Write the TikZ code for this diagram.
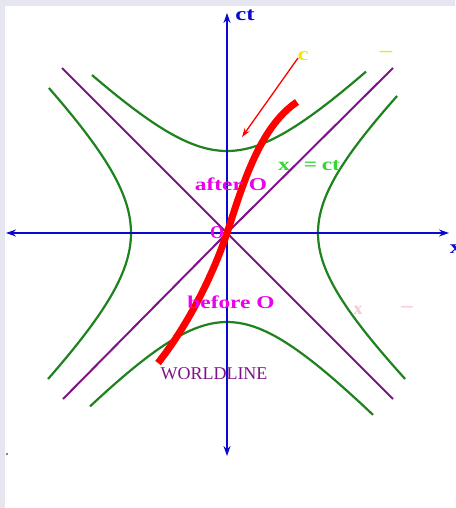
\documentclass[tikz,border=0pt]{standalone}
\usepackage{fontspec}
\setmainfont{Liberation Serif}
\usetikzlibrary{arrows.meta}
\definecolor{framebg}{RGB}{230,230,240}
\definecolor{axisblue}{RGB}{10,10,205}
\definecolor{hypgreen}{RGB}{30,130,30}
\definecolor{conepurple}{RGB}{125,20,135}
\definecolor{labmag}{RGB}{235,0,235}
\definecolor{labgreen}{RGB}{50,215,50}
\definecolor{labyellow}{RGB}{240,230,20}
\definecolor{paleredish}{RGB}{248,200,205}
\newcommand{\wide}[2]{\scalebox{#1}[1]{#2}}
\tikzset{
  axisline/.style={axisblue, line width=2.6pt, {Stealth[length=10pt,width=7pt]}-{Stealth[length=10pt,width=7pt]}},
  hyp/.style={hypgreen, line width=2.2pt},
  cone/.style={conepurple, line width=2pt},
  world/.style={red, line width=7pt},
  thinred/.style={red, line width=1.3pt, -{Stealth[length=9pt,width=6pt]}},
  maglab/.style={labmag, inner sep=0pt, font=\fontsize{18}{18}\selectfont\bfseries},
  bluelab/.style={axisblue, inner sep=0pt, font=\fontsize{19}{19}\selectfont\bfseries},
}
\begin{document}
\begin{tikzpicture}[x=1pt,y=-1pt]
\useasboundingbox (0,0) rectangle (455,508);
\fill[framebg] (0,0) rectangle (455,508);
\fill[white] (5,6) rectangle (455,508);
% coordinates
\coordinate (O) at (227,233);
\coordinate (ytop) at (227,13);
\coordinate (ybot) at (227,456);
\coordinate (xl) at (6,233);
\coordinate (xr) at (449,233);
\coordinate (c1a) at (62,68);
\coordinate (c1b) at (393,399);
\coordinate (c2a) at (393,68);
\coordinate (c2b) at (63,399);
% light cone
\draw[cone] (c1a) -- (O) -- (c1b);
\draw[cone] (c2a) -- (O) -- (c2b);
% hyperbolas
\draw[hyp] plot[domain=92:366, samples=70] (\x, {233 - 10*sqrt(8.2*8.2 + ((\x-227)/10)*((\x-227)/10))});
\draw[hyp] plot[domain=90:373, samples=70] (\x, {233 + 10*sqrt(8.9*8.9 + 1.18*((\x-227)/10)*((\x-227)/10))});
\draw[hyp] plot[variable=\t, domain=96:379, samples=70] ({227 + 10*sqrt(9.1*9.1 + 1.1*((\t-233)/10)*((\t-233)/10))}, \t);
\draw[hyp] plot[variable=\t, domain=88:379, samples=70] ({227 - 10*sqrt(9.6*9.6 + 1.07*((\t-233)/10)*((\t-233)/10))}, \t);
% axes
\draw[axisline] (ybot) -- (ytop);
\draw[axisline] (xl) -- (xr);
% worldline
\coordinate (wstart) at (158,363);
\coordinate (wend) at (297,102);
\draw[world] (wstart) .. controls (188,325) and (213,275) .. (O) .. controls (241,191) and (258,128) .. (wend);
% light signal
\coordinate (cs) at (298,58);
\coordinate (ce) at (242,137);
\draw[thinred] (cs) -- (ce);
% labels
\node[bluelab] (ct) at (245,15) {\wide{1.3}{ct}};
\node[bluelab] (xlab) at (456,249) {\wide{1.3}{x}};
\node[labyellow, inner sep=0pt, font=\fontsize{19}{19}\selectfont\bfseries] (clab) at (303,56) {\wide{1.3}{c}};
\node[labyellow, inner sep=0pt, font=\fontsize{19}{19}\selectfont\bfseries] (dashlab) at (386,54) {\wide{1.3}{–}};
\node[labgreen, inner sep=0pt, font=\fontsize{18}{18}\selectfont\bfseries] (xct) at (309,166) {\wide{1.3}{x\hspace{0.6em}=\hspace{0.2em}ct}};
\node[maglab] (after) at (231,184) {\wide{1.3}{after O}};
\node[maglab] (olab) at (217,233) {O};
\node[maglab] (before) at (231,302) {\wide{1.3}{before O}};
\node[conepurple, inner sep=0pt, font=\fontsize{18}{18}\selectfont] (wl) at (214,374) {WORLDLINE};
\node[paleredish, inner sep=0pt, font=\fontsize{18}{18}\selectfont\bfseries] (px) at (358,310) {x};
\node[paleredish, inner sep=0pt, font=\fontsize{18}{18}\selectfont\bfseries] (pdash) at (407,309) {\wide{1.3}{–}};
\fill (7,454) circle (0.8);
\end{tikzpicture}
\end{document}
